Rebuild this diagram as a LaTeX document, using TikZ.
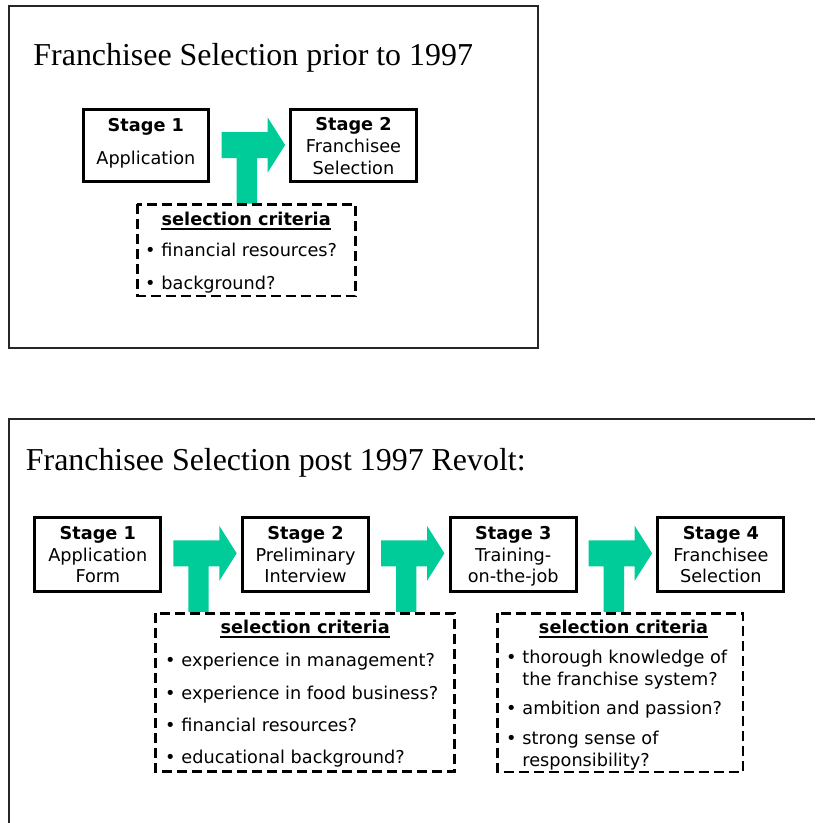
\documentclass[tikz,border=0pt]{standalone}
\usepackage{fontspec}
\setmainfont{DejaVu Sans}
\newfontfamily\titlefont{Liberation Serif}
\definecolor{tgreen}{RGB}{0,204,153}
\newcommand{\stk}[1]{\begin{tabular}[t]{@{}c@{}}#1\end{tabular}}
\newcommand{\blist}[1]{\begin{tabular}[t]{@{}l@{\hspace{6pt}}l@{}}#1\end{tabular}}
\tikzset{
  frame/.style={draw=black!85, line width=1.7pt},
  stagebox/.style={draw, line width=3pt, inner sep=0pt, minimum width=126pt, minimum height=73.5pt},
  critbox/.style={draw, line width=2.8pt, dash pattern=on 10pt off 5pt},
  lbl/.style={inner sep=0pt, anchor=base, font=\fontsize{17.7}{21.7}\selectfont},
  blbl/.style={inner sep=0pt, anchor=base west, font=\fontsize{17.7}{21.7}\selectfont},
  ttl/.style={inner sep=0pt, anchor=base west, font=\titlefont\fontsize{31.9}{38}\selectfont},
  uline/.style={line width=1.8pt},
  tarr/.pic={
    \fill[tgreen] (0,-13) -- (46,-13) -- (46,-27.5) -- (63.4,0) -- (46,27.5)
      -- (46,13) -- (35.3,13) -- (35.3,58.5) -- (15,58.5) -- (15,13) -- (0,13) -- cycle;
  }
}
\begin{document}
\begin{tikzpicture}[x=1pt,y=-1pt]
\useasboundingbox (0,0) rectangle (815,823);
% frames
\draw[frame] (9,6.2) rectangle (537.7,347.7);
\draw[frame] (815,419.3) -- (9.3,419.3) -- (9.3,823);
% titles
\node[ttl] (t1) at (33.3,65.7) {Franchisee Selection prior to 1997};
\node[ttl] (t2) at (25.7,470) {Franchisee Selection post 1997 Revolt:};

% ---------- top panel ----------
\pic at (221.7,145) {tarr};
\node[stagebox, minimum width=125.3pt, minimum height=72.3pt] (a1) at (145.85,145.65) {};
\node[stagebox, minimum width=125.4pt, minimum height=72pt] (a2) at (353.5,145.8) {};
\node[lbl] (a1t) at (145.85,131) {\stk{\textbf{Stage 1}\\[11.3pt]Application}};
\node[lbl] (a2t) at (353.5,130.7) {\stk{\textbf{Stage 2}\\Franchisee\\Selection}};
\draw[critbox] (137.4,204.1) rectangle (355.3,295.9);
\node[lbl, font=\fontsize{17.7}{21.7}\selectfont\bfseries] (h0) at (246.2,225) {selection criteria};
\draw[uline] ([yshift=-3.8pt]h0.base west) -- ([yshift=-3.8pt]h0.base east);
\node[blbl] (l0) at (144.8,256.7) {\blist{• & financial resources?\\[10.9pt]• & background?}};

% ---------- bottom panel ----------
\pic at (173.3,553.3) {tarr};
\pic at (381.0,553.3) {tarr};
\pic at (588.7,553.3) {tarr};
\node[stagebox] (b1) at (97.8,554.35) {};
\node[stagebox] (b2) at (305.5,554.35) {};
\node[stagebox] (b3) at (513.2,554.35) {};
\node[stagebox] (b4) at (720.9,554.35) {};
\node[lbl] (b1t) at (97.8,539.3) {\stk{\textbf{Stage 1}\\Application\\Form}};
\node[lbl] (b2t) at (305.5,539.3) {\stk{\textbf{Stage 2}\\Preliminary\\Interview}};
\node[lbl] (b3t) at (513.2,539.3) {\stk{\textbf{Stage 3}\\Training-\\on-the-job}};
\node[lbl] (b4t) at (720.9,539.3) {\stk{\textbf{Stage 4}\\Franchisee\\Selection}};

\draw[critbox] (155.4,613.1) rectangle (454.6,771.3);
\draw[critbox] (497.4,613.1) rectangle (742.9,771.9);
\node[lbl, font=\fontsize{17.7}{21.7}\selectfont\bfseries] (h1) at (305.2,633) {selection criteria};
\draw[uline] ([yshift=-3.8pt]h1.base west) -- ([yshift=-3.8pt]h1.base east);
\node[lbl, font=\fontsize{17.7}{21.7}\selectfont\bfseries] (h2) at (623.5,633) {selection criteria};
\draw[uline] ([yshift=-3.8pt]h2.base west) -- ([yshift=-3.8pt]h2.base east);
\node[blbl] (l1) at (164.8,666.7) {\blist{• & experience in management?\\[10.7pt]• & experience in food business?\\[10.7pt]• & financial resources?\\[10.7pt]• & educational background?}};
\node[blbl] (l2) at (505.8,663.3) {\blist{• & thorough knowledge of\\ & the franchise system?\\[8pt]• & ambition and passion?\\[8pt]• & strong sense of\\ & responsibility?}};
\end{tikzpicture}
\end{document}
